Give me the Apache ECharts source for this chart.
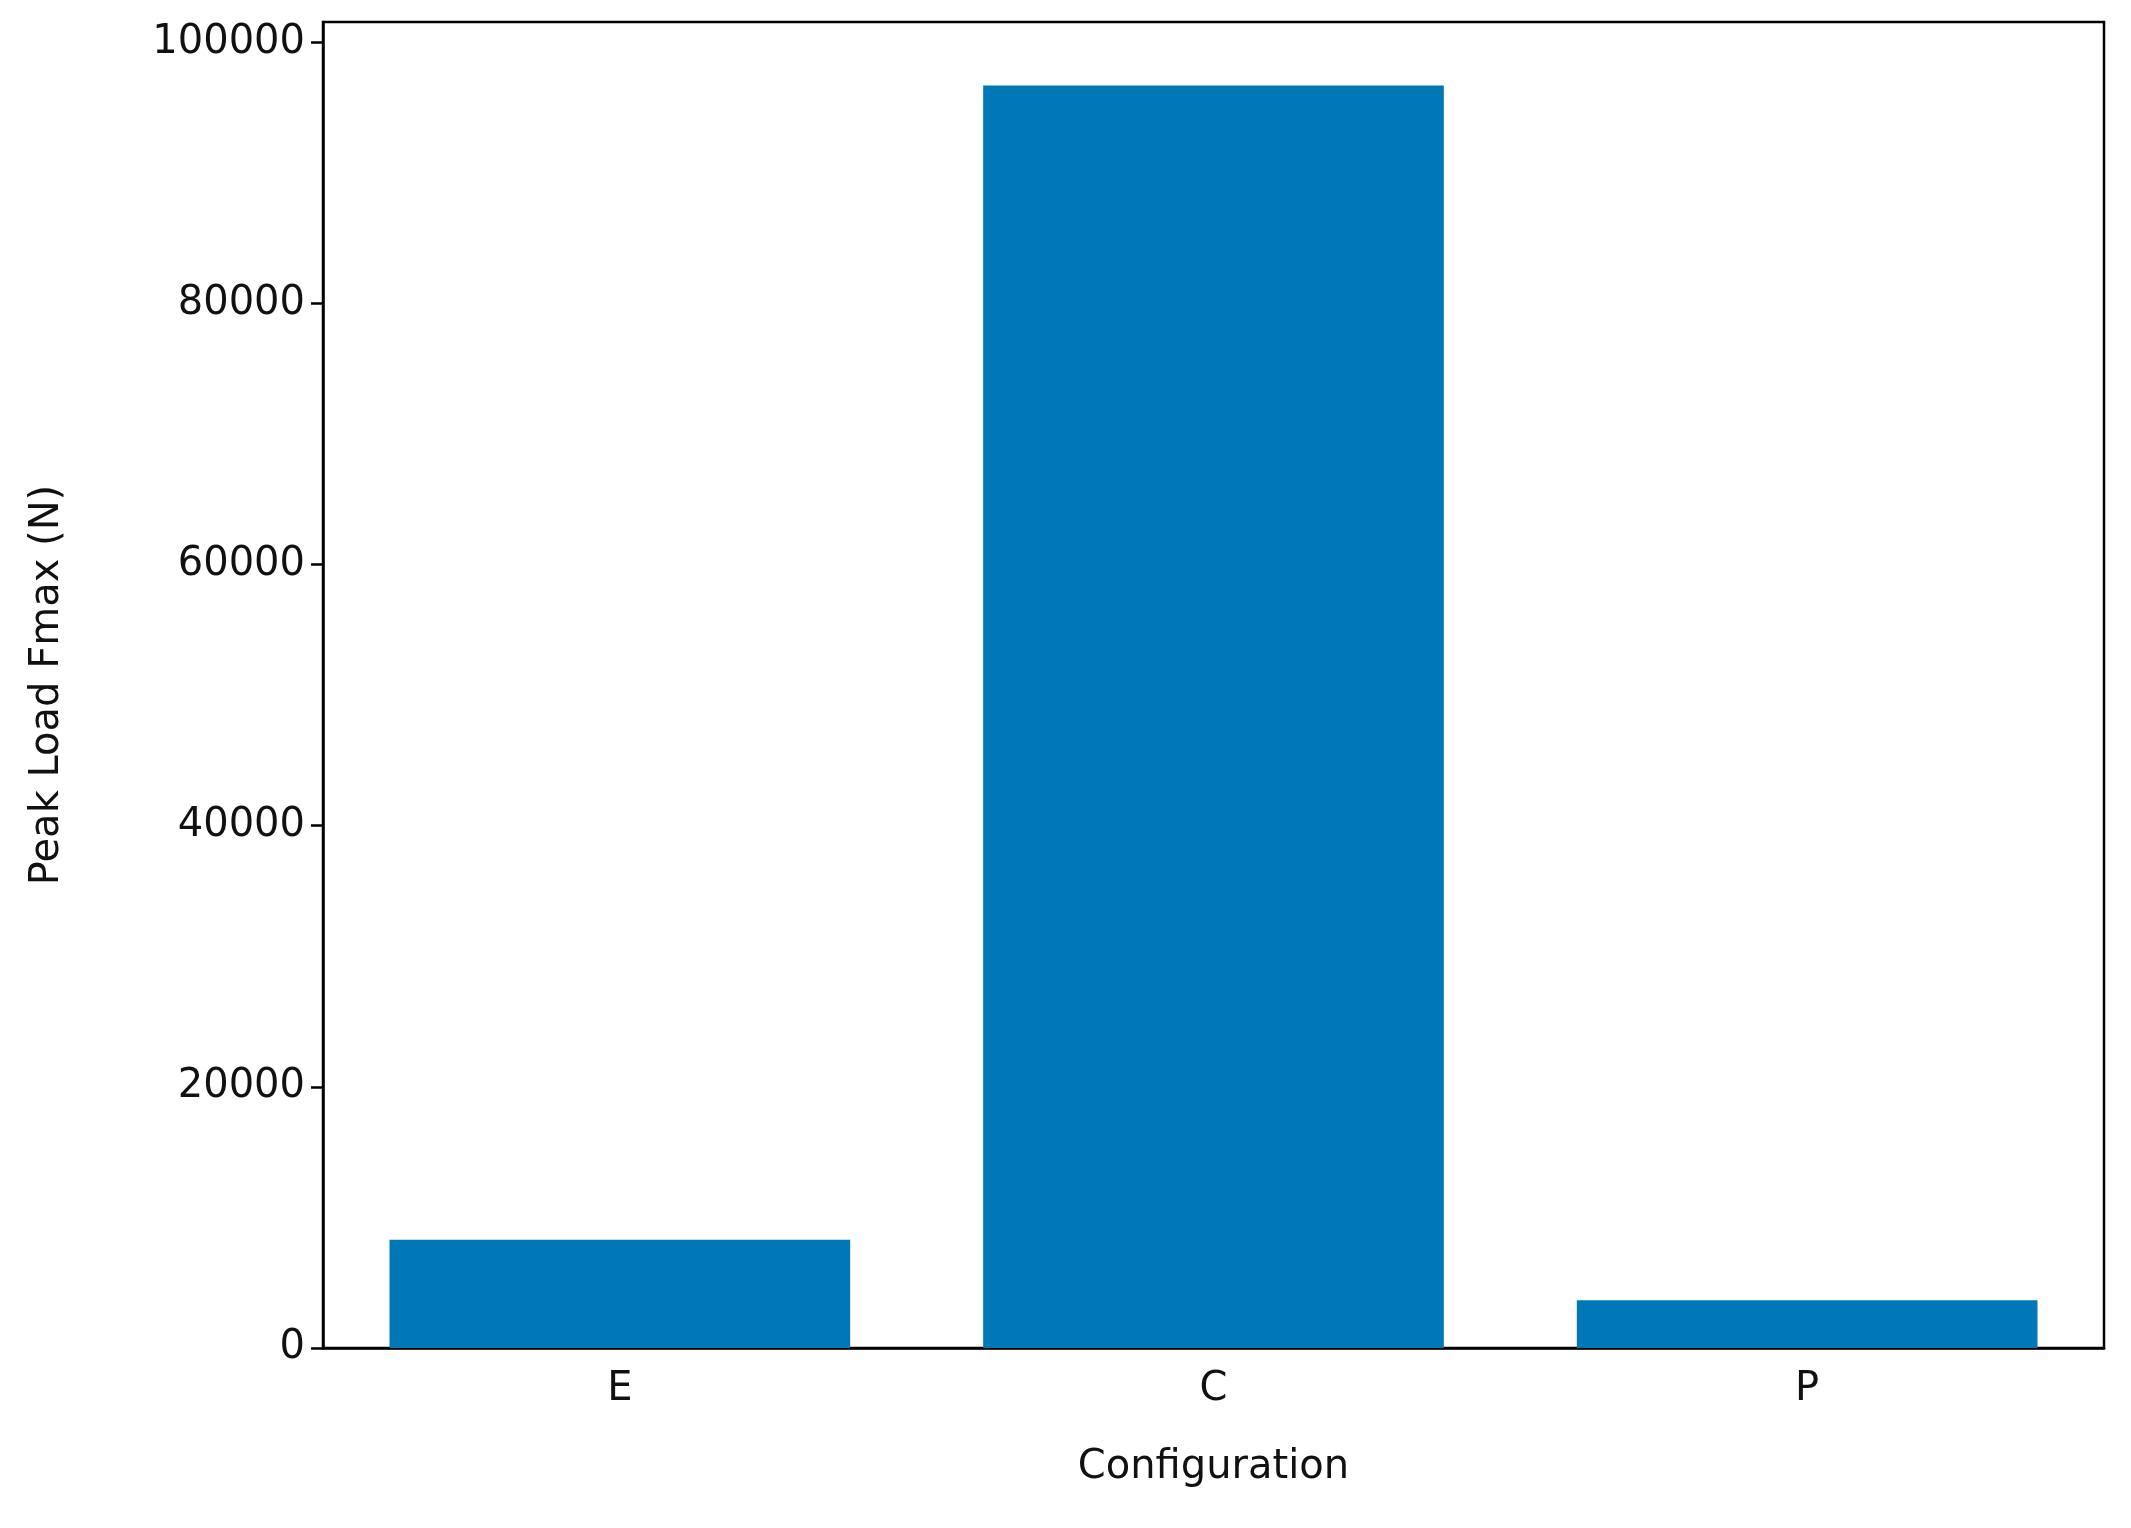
<!DOCTYPE html>
<html><head><meta charset="utf-8">
<script src="https://cdn.jsdelivr.net/npm/echarts@6/dist/echarts.min.js"></script>
<style>html,body{margin:0;padding:0;background:#fff}#c{width:2131px;height:1528px}</style>
</head><body><div id="c"></div>
<script>
const categories = ['E', 'C', 'P'];
const peakLoad = [8300, 96700, 3650];
const yTicks = [0, 20000, 40000, 60000, 80000, 100000];
const font = 'DejaVu Sans';
const chart = echarts.init(document.getElementById('c'));
chart.setOption({
  animation: false,
  grid: {left: 323, right: 27, top: 22, bottom: 180, show: true, borderColor: '#000', borderWidth: 2.5},
  xAxis: {
    type: 'category', data: categories, name: 'Configuration', nameLocation: 'middle', nameGap: 100,
    nameTextStyle: {fontFamily: font, fontSize: 40, color: '#111'},
    axisLine: {lineStyle: {color: '#000', width: 2.5}},
    axisTick: {alignWithLabel: true, length: 12, lineStyle: {color: '#000', width: 2.5}},
    axisLabel: {fontFamily: font, fontSize: 40, color: '#111', margin: 22}
  },
  yAxis: {
    type: 'value', min: 0, max: 101560, interval: 20000,
    name: 'Peak Load Fmax (N)', nameLocation: 'middle', nameGap: 255,
    nameTextStyle: {fontFamily: font, fontSize: 40, color: '#111'},
    splitLine: {show: false},
    axisLine: {show: true, lineStyle: {color: '#000', width: 2.5}},
    axisTick: {show: true, length: 12, lineStyle: {color: '#000', width: 2.5}},
    axisLabel: {fontFamily: font, fontSize: 40, color: '#111', margin: 18, showMaxLabel: false,
      formatter: v => yTicks.includes(v) ? String(v) : ''}
  },
  series: [{type: 'bar', data: peakLoad, barWidth: '77.6%', itemStyle: {color: '#0077B6'}}]
});
</script></body></html>
